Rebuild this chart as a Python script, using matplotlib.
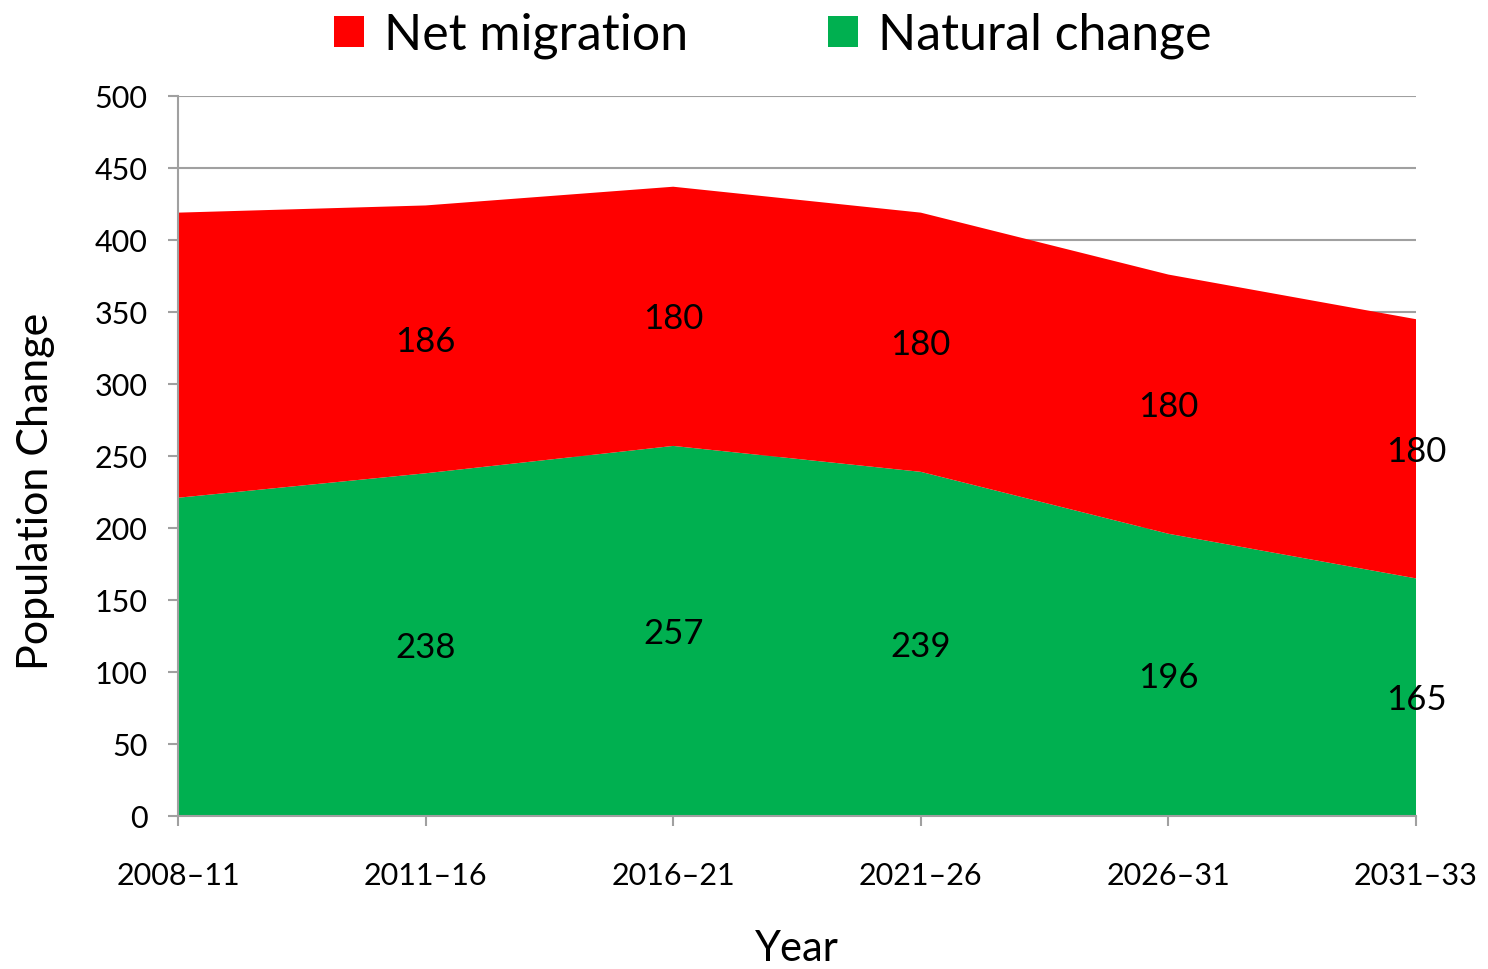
import matplotlib
matplotlib.use("Agg")
import matplotlib.pyplot as plt
import numpy as np

# Population change by period
periods = ["2008\u201311", "2011\u201316", "2016\u201321", "2021\u201326", "2026\u201331", "2031\u201333"]
natural_change = [221, 238, 257, 239, 196, 165]
net_migration = [198, 186, 180, 180, 180, 180]
show_label = [False, True, True, True, True, True]

plt.rcParams['font.family'] = ['Lato', 'DejaVu Sans']

fig = plt.figure(figsize=(14.88, 9.69), dpi=100)
ax = fig.add_axes([178 / 1488, 1 - 816 / 969, (1416 - 178) / 1488, (816 - 96) / 969])

x = np.arange(len(periods))
nat = np.array(natural_change)
mig = np.array(net_migration)

ax.stackplot(x, nat, mig, colors=['#00b050', '#ff0000'],
             labels=['Natural change', 'Net migration'], zorder=2)

# value labels in the middle of each band
for i in range(len(periods)):
    if not show_label[i]:
        continue
    ax.text(x[i], nat[i] / 2, str(nat[i]), ha='center', va='center_baseline', fontsize=25, zorder=3)
    ax.text(x[i], nat[i] + mig[i] / 2, str(mig[i]), ha='center', va='center_baseline', fontsize=25, zorder=3)

ax.set_xlim(0, len(periods) - 1)
ax.set_ylim(0, 500)
ax.set_yticks(range(0, 501, 50))
ax.set_xticks(x)
ax.set_xticklabels(periods)
ax.yaxis.grid(True, color='#a0a0a0', linewidth=1.5, zorder=1)
ax.set_axisbelow(True)

for side in ['top', 'right']:
    ax.spines[side].set_visible(False)
for side in ['left', 'bottom']:
    ax.spines[side].set_color('#a0a0a0')
    ax.spines[side].set_linewidth(1.5)
ax.tick_params(axis='both', colors='#a0a0a0', width=1.5, length=7, labelsize=22, labelcolor='black')
ax.tick_params(axis='x', pad=26)
ax.tick_params(axis='y', pad=15)

ax.set_xlabel('Year', fontsize=30, labelpad=29)
ax.set_ylabel('Population Change', fontsize=31)
ax.yaxis.set_label_coords(-0.0994, 0.451)

handles, labels = ax.get_legend_handles_labels()
fig.legend(handles[::-1], labels[::-1], loc='upper center', bbox_to_anchor=(0.5195, 1.034),
           ncol=2, frameon=False, fontsize=36, handlelength=0.6, handleheight=0.6,
           handletextpad=0.4, columnspacing=2.8)

fig.savefig('out.png', dpi=100)
